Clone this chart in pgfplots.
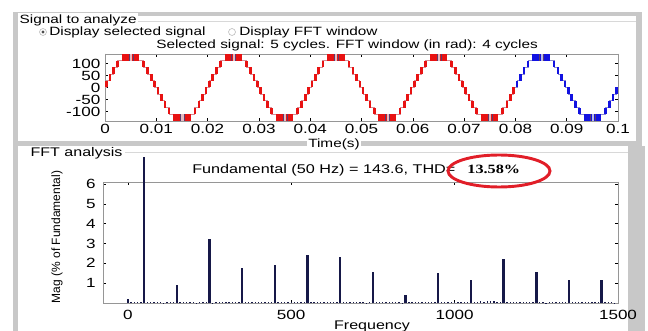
\documentclass[border=0pt]{standalone}
\usepackage{pgfplots}
\usepackage{pgfplotstable}
\pgfplotsset{compat=1.18}
\usepackage{fontspec}
\setmainfont{Liberation Sans}[FakeStretch=1.28]
\newfontfamily\plainsans{Liberation Sans}
\newfontfamily\timesb{Liberation Serif}[FakeStretch=1.28]
\definecolor{sigred}{RGB}{232,18,18}
\definecolor{palered}{RGB}{214,140,150}
\definecolor{sigblue}{RGB}{18,18,225}
\definecolor{paleblue}{RGB}{140,140,210}
\definecolor{darkline}{RGB}{90,60,110}
\definecolor{barnavy}{RGB}{22,24,72}
\definecolor{panelgray}{RGB}{200,200,200}
\definecolor{axgray}{RGB}{150,150,150}
\definecolor{ellred}{RGB}{225,30,40}
\pgfplotsset{chatter/.style={draw=none, mark=none, forget plot}}

% staircase transitions (time, mid-level of the step)
\pgfplotstableread{
t y
0.00032 14
0.00097 42
0.00167 70
0.00247 98
0.00753 98
0.00833 70
0.00903 42
0.00968 14
0.01032 -14
0.01097 -42
0.01167 -70
0.01247 -98
0.01753 -98
0.01833 -70
0.01903 -42
0.01968 -14
0.02032 14
0.02097 42
0.02167 70
0.02247 98
0.02753 98
0.02833 70
0.02903 42
0.02968 14
0.03032 -14
0.03097 -42
0.03167 -70
0.03247 -98
0.03753 -98
0.03833 -70
0.03903 -42
0.03968 -14
0.04032 14
0.04097 42
0.04167 70
0.04247 98
0.04753 98
0.04833 70
0.04903 42
0.04968 14
0.05032 -14
0.05097 -42
0.05167 -70
0.05247 -98
0.05753 -98
0.05833 -70
0.05903 -42
0.05968 -14
0.06032 14
0.06097 42
0.06167 70
0.06247 98
0.06753 98
0.06833 70
0.06903 42
0.06968 14
0.07032 -14
0.07097 -42
0.07167 -70
0.07247 -98
0.07753 -98
0.07833 -70
0.07903 -42
0.07968 -14
}\redtrans

\pgfplotstableread{
t y
0.08032 14
0.08097 42
0.08167 70
0.08247 98
0.08753 98
0.08833 70
0.08903 42
0.08968 14
0.09032 -14
0.09097 -42
0.09167 -70
0.09247 -98
0.09753 -98
0.09833 -70
0.09903 -42
0.09968 -14
}\bluetrans

\pgfplotstableread{
f m
0 0.20
10 0.06
20 0.04
30 0.05
40 0.03
60 0.07
70 0.06
80 0.05
90 0.07
100 0.04
110 0.02
120 0.03
130 0.05
140 0.04
160 0.06
170 0.05
180 0.03
190 0.04
200 0.05
210 0.02
220 0.04
230 0.03
240 0.05
260 0.02
270 0.06
280 0.07
290 0.05
300 0.06
310 0.03
320 0.04
330 0.06
340 0.05
360 0.06
370 0.04
380 0.03
390 0.05
400 0.04
410 0.05
420 0.06
430 0.03
440 0.05
460 0.04
470 0.03
480 0.05
490 0.06
500 0.07
510 0.05
520 0.04
530 0.06
540 0.03
560 0.07
570 0.05
580 0.04
590 0.03
600 0.05
610 0.06
620 0.04
630 0.07
640 0.05
660 0.06
670 0.03
680 0.04
690 0.05
700 0.03
710 0.04
720 0.05
730 0.02
740 0.04
760 0.03
770 0.05
780 0.04
790 0.03
800 0.04
810 0.05
820 0.03
830 0.04
840 0.02
860 0.03
870 0.04
880 0.03
890 0.05
900 0.04
910 0.03
920 0.05
930 0.04
940 0.06
960 0.05
970 0.06
980 0.04
990 0.03
1000 0.05
1010 0.06
1020 0.04
1030 0.07
1040 0.05
1060 0.06
1070 0.07
1080 0.08
1090 0.07
1100 0.08
1110 0.09
1120 0.08
1130 0.07
1140 0.06
1160 0.05
1170 0.04
1180 0.06
1190 0.05
1200 0.04
1210 0.03
1220 0.05
1230 0.06
1240 0.04
1260 0.03
1270 0.04
1280 0.02
1290 0.03
1300 0.04
1310 0.05
1320 0.06
1330 0.07
1340 0.05
1360 0.04
1370 0.06
1380 0.03
1390 0.05
1400 0.06
1410 0.07
1420 0.05
1430 0.06
1440 0.04
1460 0.03
1470 0.04
1480 0.03
1490 0.02
}\noise

\pgfplotstableread{
f m
50 7.37
150 0.92
250 3.25
350 1.75
450 1.90
550 2.40
650 2.30
750 1.58
850 0.42
950 1.50
1050 1.17
1150 2.22
1250 1.55
1350 1.15
1450 1.17
}\harm

\begin{document}
\begin{tikzpicture}
\path[use as bounding box] (0,0) rectangle (486pt,-248.25pt);
\begin{scope}[x=0.75pt,y=-0.75pt]
 \fill[panelgray] (13,12) rectangle (642,16);
 \fill[panelgray] (13,12) rectangle (18,331);
 \fill[panelgray] (636,12) rectangle (642,142);
 \fill[panelgray] (13,141) rectangle (642,146);
 \fill[panelgray] (628,146) rectangle (645,331);
 \draw[panelgray!70, line width=0.6pt] (135,21) -- (636,21);
 \draw[panelgray!70, line width=0.6pt] (125,152) -- (628,152);
 \node[anchor=west, fill=white, inner sep=1pt, font=\fontsize{9}{10}\selectfont] at (18,20) {Signal to analyze};
 \draw[gray!60, fill=white, line width=0.4pt] (43,32) circle (2.6pt);
 \fill[black!70] (43,32) circle (1.2pt);
 \node[anchor=west, inner sep=0pt, font=\fontsize{9}{10}\selectfont] at (49,32) {Display selected signal};
 \draw[gray!60, fill=white, line width=0.4pt] (232,32) circle (2.6pt);
 \node[anchor=west, inner sep=0pt, font=\fontsize{9}{10}\selectfont] at (239,32) {Display FFT window};
 \node[anchor=west, inner sep=0pt, font=\fontsize{9}{10}\selectfont] at (156,45) {Selected signal: 5 cycles. FFT window (in rad): 4 cycles};
 \node[fill=white, inner sep=1pt, font=\fontsize{9}{10}\selectfont] at (334,144.5) {Time(s)};
 \node[anchor=west, fill=white, inner sep=1pt, font=\fontsize{9.4}{10}\selectfont] at (29,153) {FFT analysis};
 \node[anchor=west, inner sep=0pt, font=\fontsize{9.5}{10}\selectfont] at (192,170) {Fundamental (50 Hz) = 143.6, THD=\hspace{9pt}{\timesb\bfseries 13.58\%}};
 \node[rotate=90, font=\plainsans\fontsize{9}{10}\selectfont] at (57,237) {Mag (\% of Fundamental)};
 \node[anchor=north, inner sep=0pt, font=\fontsize{9.4}{10}\selectfont] at (372,321) {Frequency};
\end{scope}

\begin{axis}[at={(78.75pt,-90.75pt)}, anchor=south west, scale only axis,
  width=384.75pt, height=50.25pt,
  xmin=0, xmax=0.1, ymin=-140, ymax=140,
  xtick={0,0.01,0.02,0.03,0.04,0.05,0.06,0.07,0.08,0.09,0.1},
  xticklabels={0,0.01,0.02,0.03,0.04,0.05,0.06,0.07,0.08,0.09,0.1},
  ytick={-100,-50,0,50,100}, yticklabels={-100,-50,0,50,100},
  tick align=inside, major tick length=2.2pt,
  axis line style={axgray, line width=0.5pt},
  tick style={black, line width=0.4pt},
  ticklabel style={font=\fontsize{10}{11}\selectfont},
  xticklabel style={yshift=1pt}]
\addplot[const plot, palered, line width=0.7pt, mark=none] coordinates {
(0,0) (0.00032,28) (0.00097,56) (0.00167,84) (0.00247,112) (0.0034,140) (0.0066,112) (0.00753,84) (0.00833,56) (0.00903,28) (0.00968,0) (0.01032,-28) (0.01097,-56) (0.01167,-84) (0.01247,-112) (0.0134,-140) (0.0166,-112) (0.01753,-84) (0.01833,-56) (0.01903,-28) (0.01968,0)
(0.02,0) (0.02032,28) (0.02097,56) (0.02167,84) (0.02247,112) (0.0234,140) (0.0266,112) (0.02753,84) (0.02833,56) (0.02903,28) (0.02968,0) (0.03032,-28) (0.03097,-56) (0.03167,-84) (0.03247,-112) (0.0334,-140) (0.0366,-112) (0.03753,-84) (0.03833,-56) (0.03903,-28) (0.03968,0)
(0.04,0) (0.04032,28) (0.04097,56) (0.04167,84) (0.04247,112) (0.0434,140) (0.0466,112) (0.04753,84) (0.04833,56) (0.04903,28) (0.04968,0) (0.05032,-28) (0.05097,-56) (0.05167,-84) (0.05247,-112) (0.0534,-140) (0.0566,-112) (0.05753,-84) (0.05833,-56) (0.05903,-28) (0.05968,0)
(0.06,0) (0.06032,28) (0.06097,56) (0.06167,84) (0.06247,112) (0.0634,140) (0.0666,112) (0.06753,84) (0.06833,56) (0.06903,28) (0.06968,0) (0.07032,-28) (0.07097,-56) (0.07167,-84) (0.07247,-112) (0.0734,-140) (0.0766,-112) (0.07753,-84) (0.07833,-56) (0.07903,-28) (0.07968,0) (0.08,0)};
\addplot[const plot, paleblue, line width=0.7pt, mark=none] coordinates {
(0.08,0) (0.08032,28) (0.08097,56) (0.08167,84) (0.08247,112) (0.0834,140) (0.0866,112) (0.08753,84) (0.08833,56) (0.08903,28) (0.08968,0) (0.09032,-28) (0.09097,-56) (0.09167,-84) (0.09247,-112) (0.0934,-140) (0.0966,-112) (0.09753,-84) (0.09833,-56) (0.09903,-28) (0.09968,0) (0.1,0)};
% switching chatter at each step
\addplot[chatter, error bars/.cd, y dir=both, y fixed=14, error mark=none,
  error bar style={draw=sigred, solid, line width=2pt}] table[x=t,y=y] {\redtrans};
\addplot[chatter, error bars/.cd, y dir=both, y fixed=14, error mark=none,
  error bar style={draw=sigblue, solid, line width=2pt}] table[x=t,y=y] {\bluetrans};
% plateau chatter blocks
\addplot[chatter, error bars/.cd, x dir=both, x fixed=0.0017, error mark=none,
  error bar style={draw=sigred, solid, line width=5.025pt}] coordinates {
(0.005,126) (0.015,-126) (0.025,126) (0.035,-126) (0.045,126) (0.055,-126) (0.065,126) (0.075,-126)};
\addplot[chatter, error bars/.cd, x dir=both, x fixed=0.0017, error mark=none,
  error bar style={draw=sigblue, solid, line width=5.025pt}] coordinates {
(0.085,126) (0.095,-126)};
\addplot[chatter, error bars/.cd, y dir=both, y fixed=14, error mark=none,
  error bar style={draw=palered!60!white, solid, line width=1.6pt}] coordinates {
(0.0051,126) (0.0151,-126) (0.0251,126) (0.0351,-126) (0.0451,126) (0.0551,-126) (0.0651,126) (0.0751,-126)};
\addplot[chatter, error bars/.cd, y dir=both, y fixed=14, error mark=none,
  error bar style={draw=paleblue!60!white, solid, line width=1.6pt}] coordinates {
(0.0851,126) (0.0951,-126)};
\addplot[chatter, error bars/.cd, y dir=both, y fixed=14, error mark=none,
  error bar style={draw=darkline, solid, line width=0.5pt}] coordinates {
(0.0047,126) (0.0055,126) (0.0147,-126) (0.0155,-126) (0.0247,126) (0.0255,126) (0.0347,-126) (0.0355,-126)
(0.0447,126) (0.0455,126) (0.0547,-126) (0.0555,-126) (0.0647,126) (0.0655,126) (0.0747,-126) (0.0755,-126)
(0.0847,126) (0.0855,126) (0.0947,-126) (0.0955,-126)};
\end{axis}

\begin{axis}[at={(77.25pt,-227.25pt)}, anchor=south west, scale only axis,
  width=386.25pt, height=90.75pt,
  xmin=-76, xmax=1500, ymin=0, ymax=6.1,
  xtick={0,500,1000,1500}, xticklabels={0,500,1000,1500},
  ytick={1,2,3,4,5,6}, yticklabels={1,2,3,4,5,6},
  tick align=inside, major tick length=2.2pt,
  axis line style={axgray, line width=0.5pt},
  tick style={black, line width=0.4pt},
  ticklabel style={font=\fontsize{10}{11}\selectfont},
  yticklabel style={xshift=-2pt},
  xticklabel style={yshift=-2pt},
  clip=false]
\addplot[ycomb, barnavy, line width=1pt, mark=none] table[x=f,y=m] {\noise};
\addplot[ycomb, barnavy, line width=1.8pt, mark=none] table[x=f,y=m] {\harm};
\end{axis}

\begin{scope}[x=0.75pt,y=-0.75pt]
 \draw[ellred, line width=2.2pt] (499,171) ellipse [x radius=38.25pt, y radius=12pt];
\end{scope}
\end{tikzpicture}
\end{document}
